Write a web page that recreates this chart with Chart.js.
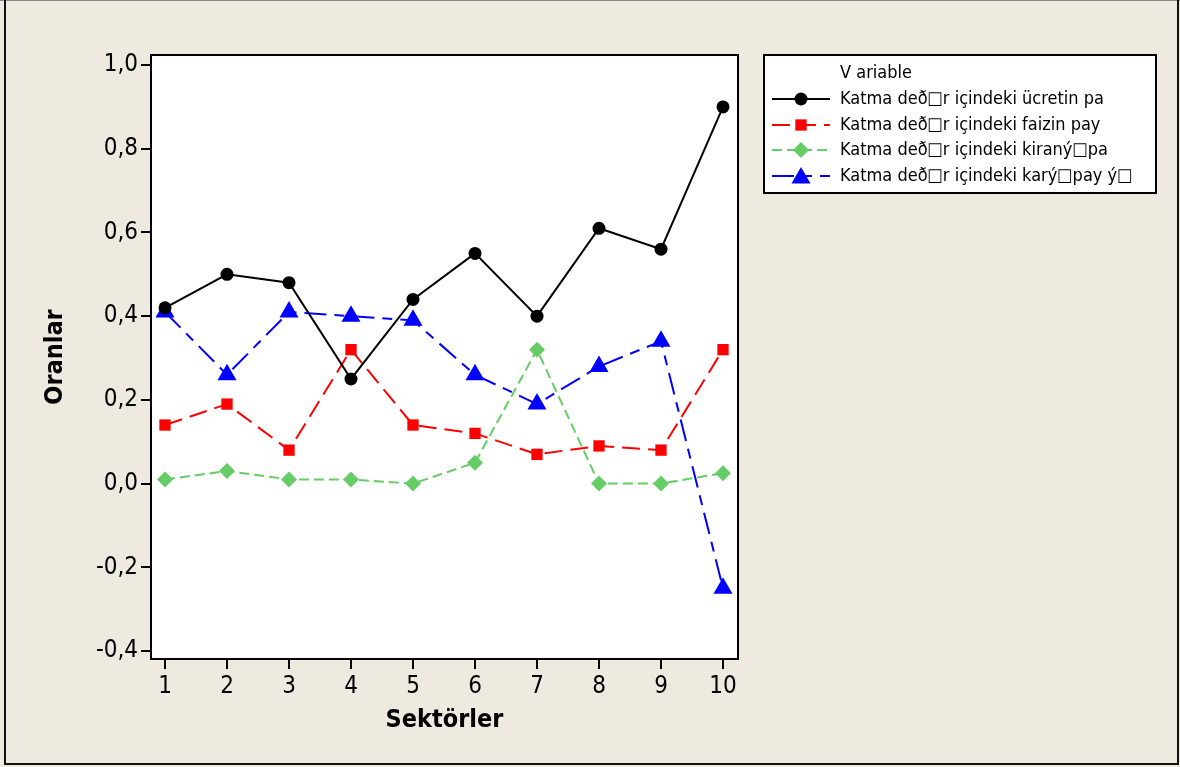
<!DOCTYPE html>
<html>
<head>
<meta charset="utf-8">
<script src="https://cdn.jsdelivr.net/npm/chart.js@4/dist/chart.umd.min.js"></script>
<style>
  html, body { margin: 0; padding: 0; background: #EEEAE0; }
  canvas { display: block; }
</style>
</head>
<body>
<canvas id="chart" width="1180" height="767"></canvas>
<script>
// data
const sektorler = [1, 2, 3, 4, 5, 6, 7, 8, 9, 10];
const ucret = [0.42, 0.50, 0.48, 0.25, 0.44, 0.55, 0.40, 0.61, 0.56, 0.90];
const faiz  = [0.14, 0.19, 0.08, 0.32, 0.14, 0.12, 0.07, 0.09, 0.08, 0.32];
const kira  = [0.01, 0.03, 0.01, 0.01, 0.00, 0.05, 0.32, 0.00, 0.00, 0.025];
const kar   = [0.41, 0.26, 0.41, 0.40, 0.39, 0.26, 0.19, 0.28, 0.34, -0.25];
const yTicks = [-0.4, -0.2, 0.0, 0.2, 0.4, 0.6, 0.8, 1.0];
const seriesNames = [
  'Katma deð\u25A1r içindeki ücretin pa',
  'Katma deð\u25A1r içindeki faizin pay',
  'Katma deð\u25A1r içindeki kiraný\u25A1pa',
  'Katma deð\u25A1r içindeki karý\u25A1pay ý\u25A1'
];
const legendTitle = 'V ariable';

const toPoints = arr => arr.map((v, i) => ({ x: sektorler[i], y: v }));

const FONT = '"DejaVu Sans Condensed", "Liberation Sans", sans-serif';

const styles = [
  { color: '#000000', dash: [], point: 'circle', radius: 6.5 },
  { color: '#FF0000', dash: [18, 8], point: 'rect', radius: 8 },
  { color: '#66CC66', dash: [10, 5], point: 'rectRot', radius: 8 },
  { color: '#0000FF', dash: [22, 8, 10, 8], point: 'triangle', radius: 11 }
];

const allData = [ucret, faiz, kira, kar];

const datasets = allData.map((arr, i) => ({
  label: seriesNames[i],
  data: toPoints(arr),
  borderColor: styles[i].color,
  backgroundColor: styles[i].color,
  borderWidth: 2,
  borderDash: styles[i].dash,
  pointStyle: styles[i].point,
  pointRadius: styles[i].radius,
  pointHoverRadius: styles[i].radius,
  pointBorderWidth: 0,
  tension: 0
}));

// background, frame, plot box
const framePlugin = {
  id: 'frame',
  beforeDraw(chart) {
    const ctx = chart.ctx;
    const a = chart.chartArea;
    ctx.save();
    ctx.fillStyle = '#EEEAE0';
    ctx.fillRect(0, 0, chart.width, chart.height);
    ctx.strokeStyle = '#8a8a8a';
    ctx.lineWidth = 1;
    ctx.beginPath();
    ctx.moveTo(0, 0.5); ctx.lineTo(chart.width, 0.5);
    ctx.stroke();
    ctx.strokeStyle = '#111';
    ctx.lineWidth = 2;
    ctx.beginPath();
    ctx.moveTo(5, 0); ctx.lineTo(5, 764);
    ctx.lineTo(1178, 764); ctx.lineTo(1178, 0);
    ctx.stroke();
    ctx.fillStyle = '#ffffff';
    ctx.fillRect(a.left, a.top, a.right - a.left, a.bottom - a.top);
    ctx.restore();
  },
  afterDraw(chart) {
    const ctx = chart.ctx;
    const a = chart.chartArea;
    ctx.save();
    ctx.strokeStyle = '#000';
    ctx.lineWidth = 2;
    ctx.strokeRect(a.left, a.top, a.right - a.left, a.bottom - a.top);
    ctx.restore();
  }
};

function drawMarker(ctx, style, x, y) {
  const r = style.radius;
  ctx.fillStyle = style.color;
  ctx.beginPath();
  if (style.point === 'circle') {
    ctx.arc(x, y, r, 0, Math.PI * 2);
  } else if (style.point === 'rect') {
    const s = Math.SQRT1_2 * r;
    ctx.rect(x - s, y - s, 2 * s, 2 * s);
  } else if (style.point === 'rectRot') {
    ctx.moveTo(x, y - r); ctx.lineTo(x + r, y); ctx.lineTo(x, y + r); ctx.lineTo(x - r, y);
    ctx.closePath();
  } else {
    ctx.moveTo(x, y - r);
    ctx.lineTo(x + r * Math.sin(2 * Math.PI / 3), y - r * Math.cos(2 * Math.PI / 3));
    ctx.lineTo(x + r * Math.sin(4 * Math.PI / 3), y - r * Math.cos(4 * Math.PI / 3));
    ctx.closePath();
  }
  ctx.fill();
}

// Minitab-like legend box to the right of the plot
const legendPlugin = {
  id: 'boxLegend',
  afterDraw(chart) {
    const ctx = chart.ctx;
    const box = { x: 764, y: 55, w: 392, h: 138 };
    ctx.save();
    ctx.fillStyle = '#ffffff';
    ctx.fillRect(box.x, box.y, box.w, box.h);
    ctx.strokeStyle = '#000';
    ctx.lineWidth = 2;
    ctx.strokeRect(box.x, box.y, box.w, box.h);

    ctx.font = '18px ' + FONT;
    ctx.fillStyle = '#000';
    ctx.textBaseline = 'middle';
    ctx.textAlign = 'left';
    ctx.fillText(legendTitle, 840, 73);

    const rows = [99, 125, 150, 176];
    chart.data.datasets.forEach((ds, i) => {
      const y = rows[i];
      const st = styles[i];
      ctx.strokeStyle = st.color;
      ctx.lineWidth = 2;
      ctx.setLineDash(st.dash);
      ctx.beginPath();
      ctx.moveTo(772, y); ctx.lineTo(830, y);
      ctx.stroke();
      ctx.setLineDash([]);
      drawMarker(ctx, st, 801, i === 3 ? y + 2 : y);
      ctx.fillStyle = '#000';
      ctx.fillText(ds.label, 840, y);
    });
    ctx.restore();
  }
};

new Chart(document.getElementById('chart'), {
  type: 'line',
  data: { datasets },
  plugins: [framePlugin, legendPlugin],
  options: {
    responsive: false,
    animation: false,
    devicePixelRatio: 1,
    layout: { padding: { left: 0, top: 55, right: 442, bottom: 0 } },
    plugins: { legend: { display: false }, tooltip: { enabled: false } },
    scales: {
      x: {
        type: 'linear',
        min: 0.774,
        max: 10.242,
        afterBuildTicks: s => { s.ticks = sektorler.map(v => ({ value: v })); },
        afterFit: s => { s.height = 108; },
        grid: { drawOnChartArea: false, drawTicks: true, tickLength: 10, color: '#000', lineWidth: 2 },
        border: { display: true, color: '#000', width: 2 },
        ticks: { color: '#000', font: { family: FONT, size: 24 }, padding: 3, maxRotation: 0, callback: v => String(v) },
        title: { display: true, text: 'Sektörler', color: '#000', font: { family: FONT, size: 25, weight: 'bold' }, padding: { top: 0, bottom: 32 } }
      },
      y: {
        min: -0.419,
        max: 1.024,
        afterBuildTicks: s => { s.ticks = yTicks.map(v => ({ value: v })); },
        afterFit: s => { s.width = 151; },
        grid: { drawOnChartArea: false, drawTicks: true, tickLength: 10, color: '#000', lineWidth: 2 },
        border: { display: true, color: '#000', width: 2 },
        ticks: { color: '#000', font: { family: FONT, size: 24 }, padding: 3, callback: v => v.toFixed(1).replace('.', ',') },
        title: { display: true, text: 'Oranlar', color: '#000', font: { family: FONT, size: 25, weight: 'bold' }, padding: { top: 40, bottom: 0 } }
      }
    }
  }
});
</script>
</body>
</html>
